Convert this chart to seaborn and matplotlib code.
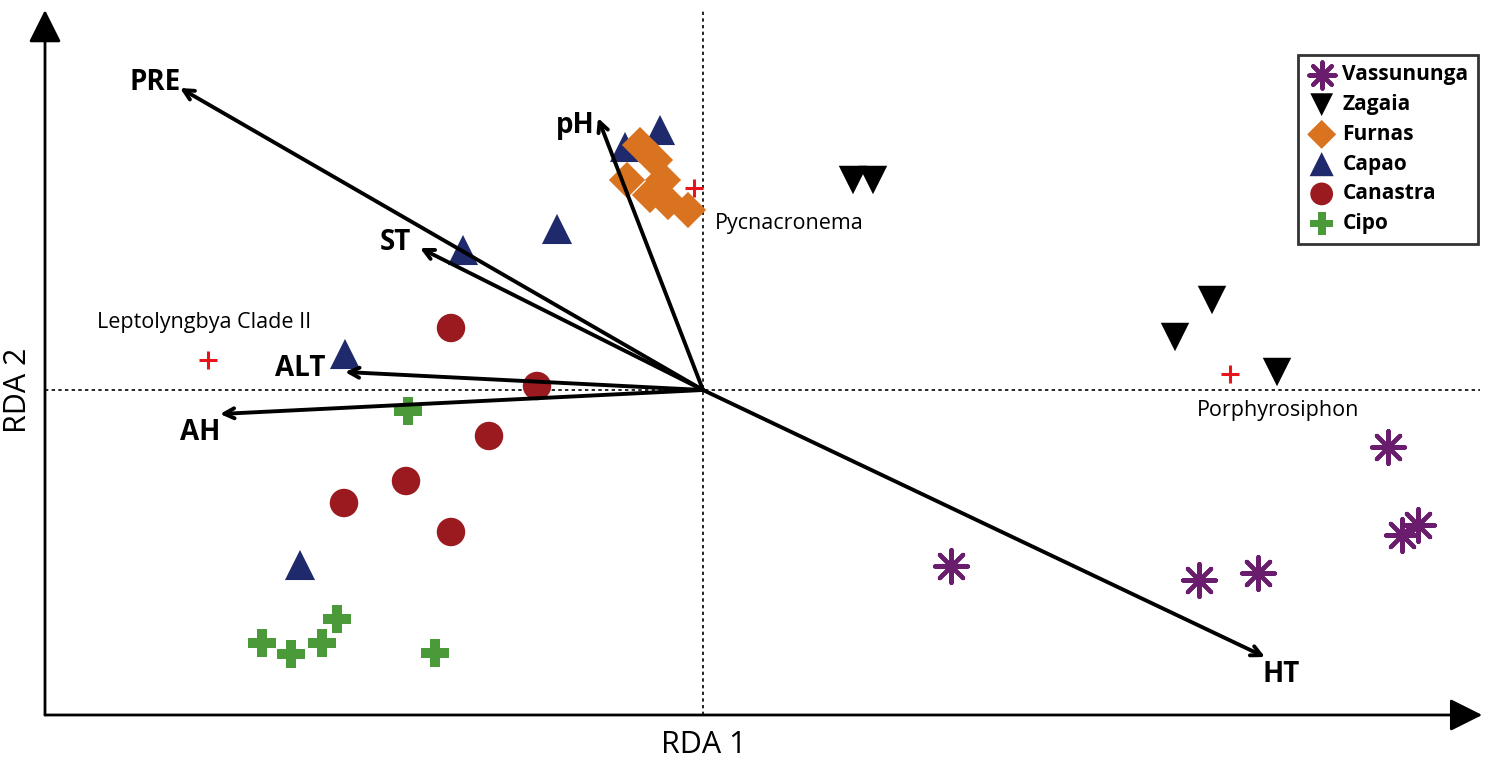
import matplotlib.pyplot as plt
import seaborn as sns

# site scores (RDA1, RDA2) per locality
vassununga_x = [2.48, 4.96, 5.55, 6.85, 6.99, 7.15]
vassununga_y = [-1.76, -1.90, -1.83, -0.57, -1.45, -1.35]
zagaia_x = [1.50, 1.70, 5.09, 4.72, 5.74]
zagaia_y = [2.10, 2.10, 0.90, 0.53, 0.18]
furnas_x = [-0.76, -0.63, -0.48, -0.40, -0.53, -0.35, -0.15]
furnas_y = [2.10, 2.45, 2.30, 2.10, 1.95, 1.88, 1.80]
capao_x = [-0.78, -0.43, -1.46, -2.40, -3.58, -4.03]
capao_y = [2.43, 2.60, 1.61, 1.40, 0.36, -1.75]
canastra_x = [-2.52, -1.66, -2.14, -2.97, -3.59, -2.52]
canastra_y = [0.62, 0.04, -0.46, -0.91, -1.13, -1.42]
cipo_x = [-2.95, -4.41, -4.12, -3.81, -3.66, -2.68]
cipo_y = [-0.21, -2.53, -2.64, -2.53, -2.29, -2.63]

# environmental vectors
env_names = ["PRE", "pH", "ST", "ALT", "AH", "HT"]
env_x = [-5.23, -1.05, -2.83, -3.58, -4.83, 5.62]
env_y = [3.02, 2.72, 1.42, 0.18, -0.24, -2.67]

# genera (species scores)
genus_names = ["Leptolyngbya Clade II", "Pycnacronema", "Porphyrosiphon"]
genus_x = [-4.95, -0.09, 5.27]
genus_y = [0.30, 2.02, 0.16]

sns.set_theme(style="white")
plt.rcParams["font.family"] = ["Open Sans", "DejaVu Sans"]
plt.rcParams["text.color"] = "black"

fig = plt.figure(figsize=(14.88, 7.66), dpi=100)
ax = fig.add_axes([45 / 1488, 51 / 766, 1443 / 1488, 715 / 766])
ax.set_xlim(-6.58, 7.85)
ax.set_ylim(-3.25, 3.90)
for s in ax.spines.values():
    s.set_visible(False)
ax.set_xticks([])
ax.set_yticks([])

# dotted reference lines through the origin
ax.plot([0, 0], [-3.25, 3.80], color="black", lw=1.2, ls=(0, (2, 2)), zorder=1)
ax.plot([-6.58, 7.77], [0, 0], color="black", lw=1.2, ls=(0, (2, 2)), zorder=1)

# axes drawn as arrows
ax.annotate("", xy=(0, 0.986), xytext=(0, 0), xycoords="axes fraction",
            arrowprops=dict(arrowstyle="-|>", lw=2, color="black", mutation_scale=50,
                            shrinkA=0, shrinkB=0))
ax.annotate("", xy=(0.996, 0), xytext=(0, 0), xycoords="axes fraction",
            arrowprops=dict(arrowstyle="-|>", lw=2, color="black", mutation_scale=50,
                            shrinkA=0, shrinkB=0))

groups = [
    ("Vassununga", vassununga_x, vassununga_y, (8, 2, 0), "#6a1d6c", 560, 3),
    ("Zagaia", zagaia_x, zagaia_y, "v", "black", 420, 3),
    ("Furnas", furnas_x, furnas_y, "D", "#d9731f", 340, 4),
    ("Capao", capao_x, capao_y, "^", "#1f2a6d", 470, 3),
    ("Canastra", canastra_x, canastra_y, "o", "#9b1a20", 420, 3),
    ("Cipo", cipo_x, cipo_y, "P", "#4a9a3a", 430, 3),
]
for name, xs, ys, mk, col, size, z in groups:
    if mk == (8, 2, 0):
        sns.scatterplot(x=xs, y=ys, marker=mk, s=size, color=col, edgecolor=col,
                        linewidth=3, label=name, zorder=z, ax=ax)
    else:
        sns.scatterplot(x=xs, y=ys, marker=mk, s=size, color=col, edgecolor="none",
                        linewidth=0, label=name, zorder=z, ax=ax)

# biplot arrows
label_offsets = {"PRE": (-25, 6), "pH": (-23, -8), "ST": (-25, 6),
                 "ALT": (-45, 4), "AH": (-20, -18), "HT": (16, -18)}
for name, ex, ey in zip(env_names, env_x, env_y):
    ax.annotate("", xy=(ex, ey), xytext=(0, 0),
                arrowprops=dict(arrowstyle="->", lw=2.8, color="black",
                                mutation_scale=18, shrinkA=0, shrinkB=0), zorder=5)
    dx, dy = label_offsets[name]
    ax.annotate(name, xy=(ex, ey), xytext=(dx, dy), textcoords="offset pixels",
                ha="center", va="center", fontsize=20, fontweight="bold",
                color="black", zorder=6)

# genus markers
genus_offsets = [(-111, 38), (21, -35), (-33, -36)]
ax.scatter(genus_x, genus_y, marker="+", s=170, color="#e8141b", linewidths=2.2, zorder=6)
for name, gx, gy, (dx, dy) in zip(genus_names, genus_x, genus_y, genus_offsets):
    ax.annotate(name, xy=(gx, gy), xytext=(dx, dy), textcoords="offset pixels",
                ha="left", va="center", fontsize=15.5, color="black", zorder=6)

fig.text(704 / 1488, 1 - 745 / 766, "RDA 1", ha="center", va="center", fontsize=22,
         color="black")
fig.text(18 / 1488, 1 - 390 / 766, "RDA 2", ha="center", va="center", fontsize=22,
         rotation=90, color="black")

leg = ax.legend(loc="upper right", bbox_to_anchor=(1478 / 1488, 1 - 55 / 766),
                bbox_transform=fig.transFigure, borderaxespad=0, frameon=True,
                fancybox=False, prop={"weight": "bold", "size": 15},
                labelspacing=0.42, handletextpad=0.3, handlelength=1.4,
                borderpad=0.45, markerscale=0.8)
leg.get_frame().set_edgecolor("black")
leg.get_frame().set_linewidth(2)
for t in leg.get_texts():
    t.set_color("black")

plt.savefig("out.png", dpi=100)
